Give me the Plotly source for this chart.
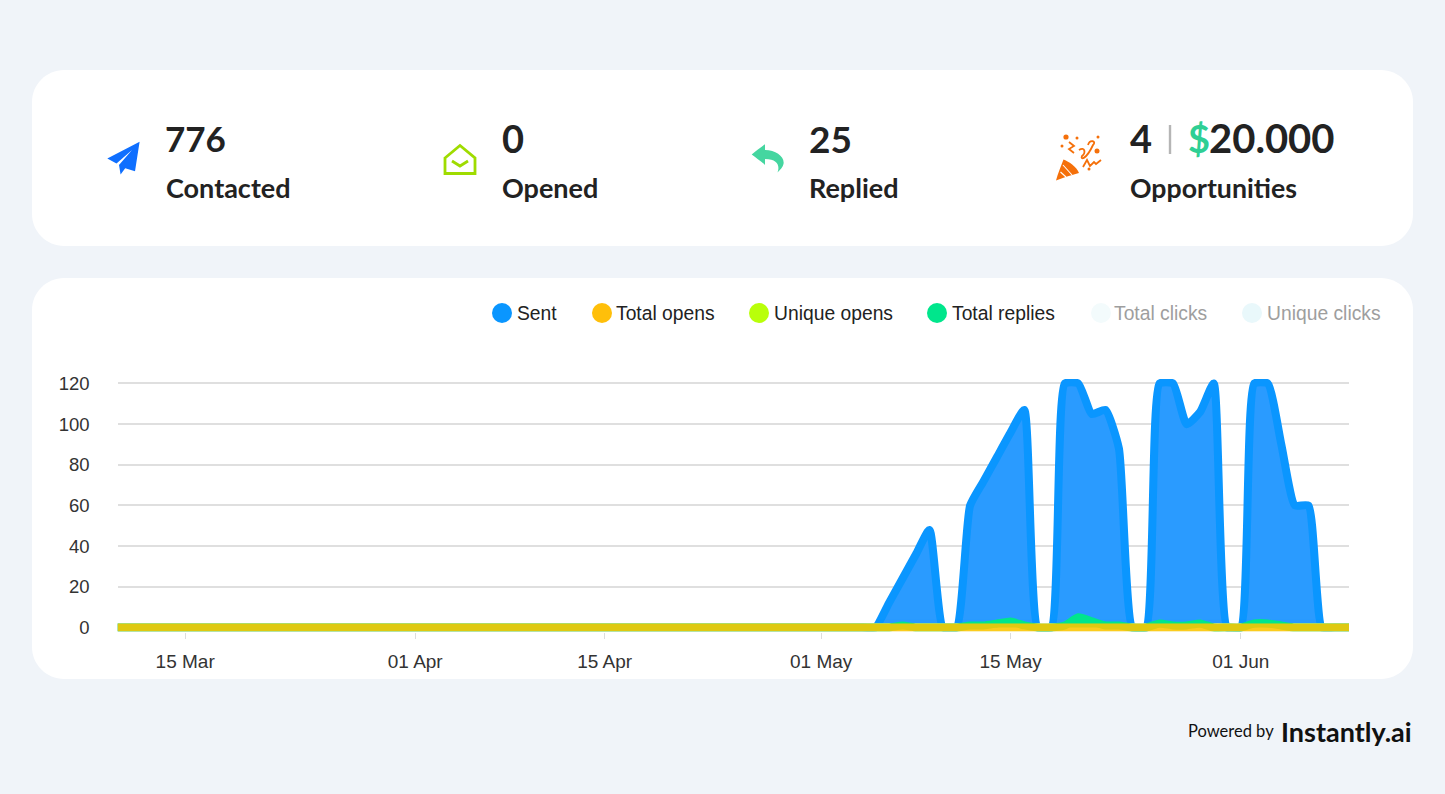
import plotly.graph_objects as go
import pandas as pd

W, H = 1445, 794

dates = [d.strftime("%Y-%m-%d") for d in pd.date_range("2024-03-10", "2024-06-09")]
leading_zeros = [0] * 56
sent_values = leading_zeros + [0, 12, 24, 36, 48, 0, 0, 60, 72, 84, 96, 107, 0, 0, 120, 120, 105, 107, 88, 0, 0,
                               120, 120, 100, 106, 120, 0, 0, 120, 120, 90, 60, 60, 0, 0, 0]
reply_values = leading_zeros + [0, 0, 1, 0, 0, 0, 0, 1, 1, 2, 3, 1, 0, 0, 1, 5, 3, 1, 1, 0, 0,
                                2, 1, 1, 2, 0, 0, 0, 2, 2, 1, 0, 0, 0, 0, 0]
zero_values = [0] * len(dates)

legend_names = ["Sent", "Total opens", "Unique opens", "Total replies", "Total clicks", "Unique clicks"]
legend_colors = ["#0a96ff", "#ffbf0a", "#b9ff0a", "#00e68c", "#f3fbfc", "#e9f8fb"]
legend_text_colors = ["#222222"] * 4 + ["#9e9e9e"] * 2
legend_dot_x = [502, 602, 759, 937, 1101, 1252]
legend_text_x = [517, 616, 774, 952, 1114, 1267]

y_ticks = [0, 20, 40, 60, 80, 100, 120]
x_tick_vals = ["2024-03-15", "2024-04-01", "2024-04-15", "2024-05-01", "2024-05-15", "2024-06-01"]
x_tick_text = ["15 Mar", "01 Apr", "15 Apr", "01 May", "15 May", "01 Jun"]

SANS = "Liberation Sans, Arial, sans-serif"
HEAD = "Lato, sans-serif"


def px(x):
    return x / W


def py(y):
    return 1 - y / H


def path(points, close=True):
    s = "M " + " L ".join(f"{px(a):.5f},{py(b):.5f}" for a, b in points)
    return s + (" Z" if close else "")


def curve(points):
    s = f"M {px(points[0][0]):.5f},{py(points[0][1]):.5f}"
    for i in range(1, len(points) - 2, 3):
        s += " C " + " ".join(f"{px(a):.5f},{py(b):.5f}" for a, b in points[i:i + 3])
    return s


def card(x0, y0, x1, y1, r):
    k = 0.45 * r
    s = f"M {px(x0 + r)},{py(y0)} L {px(x1 - r)},{py(y0)} "
    s += f"C {px(x1 - k)},{py(y0)} {px(x1)},{py(y0 + k)} {px(x1)},{py(y0 + r)} "
    s += f"L {px(x1)},{py(y1 - r)} C {px(x1)},{py(y1 - k)} {px(x1 - k)},{py(y1)} {px(x1 - r)},{py(y1)} "
    s += f"L {px(x0 + r)},{py(y1)} C {px(x0 + k)},{py(y1)} {px(x0)},{py(y1 - k)} {px(x0)},{py(y1 - r)} "
    s += f"L {px(x0)},{py(y0 + r)} C {px(x0)},{py(y0 + k)} {px(x0 + k)},{py(y0)} {px(x0 + r)},{py(y0)} Z"
    return dict(type="path", xref="paper", yref="paper", path=s, fillcolor="#ffffff",
                line_width=0, layer="below")


def fill_shape(s, color, layer="above"):
    return dict(type="path", xref="paper", yref="paper", path=s, fillcolor=color, line_width=0, layer=layer)


def stroke_shape(s, color, width):
    return dict(type="path", xref="paper", yref="paper", path=s, line=dict(color=color, width=width))


def circle(cx, cy, r, color):
    return dict(type="circle", xref="paper", yref="paper", x0=px(cx - r), x1=px(cx + r),
                y0=py(cy + r), y1=py(cy - r), fillcolor=color, line_width=0, layer="above")


def text(x, y, s, size, color="#222222", family=HEAD, bold=False, anchor="left"):
    return dict(xref="paper", yref="paper", x=px(x), y=py(y), text=f"<b>{s}</b>" if bold else s,
                showarrow=False, xanchor=anchor, yanchor="middle",
                font=dict(size=size, color=color, family=family), borderpad=0, borderwidth=0)


fig = go.Figure()


def line_trace(name, values, color, width, fill=None, opacity=1.0):
    fig.add_trace(go.Scatter(
        x=dates, y=values, name=name, mode="lines", showlegend=False, cliponaxis=False,
        line=dict(color=color, width=width, shape="spline", smoothing=0.5),
        fill="tozeroy" if fill else None, fillcolor=fill, opacity=opacity,
    ))


line_trace(legend_names[0], sent_values, legend_colors[0], 8, fill="rgba(42,155,255,1)")
line_trace(legend_names[5], zero_values, legend_colors[5], 8)
line_trace(legend_names[4], zero_values, legend_colors[4], 8)
line_trace(legend_names[3], reply_values, legend_colors[3], 8, fill=legend_colors[3])
line_trace(legend_names[2], zero_values, legend_colors[2], 8, opacity=0.15)
line_trace(legend_names[1], zero_values, "#ffc400", 8, opacity=0.86)

shapes = [card(32, 70, 1413, 246, 32), card(32, 278, 1413, 679, 32)]
annotations = []

# legend
for name, color, tcolor, dx, tx in zip(legend_names, legend_colors, legend_text_colors, legend_dot_x, legend_text_x):
    shapes.append(circle(dx, 313, 10, color))
    annotations.append(text(tx, 313, name, 19.3, tcolor, SANS))

# KPI icons
shapes.append(fill_shape(path([(139.6, 141.7), (107.3, 158.6), (116.5, 163.4), (132, 150), (119, 165),
                               (120.6, 174.6), (125.2, 168.3), (135, 171.3)]), "#0f6fff"))
shapes.append(stroke_shape(path([(445, 158), (460, 145.5), (475, 158), (475, 173.5), (445, 173.5)]), "#9fdc00", 2.8))
shapes.append(stroke_shape(path([(452, 161), (460, 166), (468, 161)], close=False), "#9fdc00", 2.8))
shapes.append(fill_shape(
    curve([(751.7, 154.5), (756, 151), (761, 147), (765, 144.2), (765, 146), (765, 148), (765, 150),
           (776, 150), (785, 157), (783.5, 164), (783, 167), (780, 170), (777.5, 172.5),
           (780, 166), (778, 159), (765, 159), (765, 161), (765, 163), (765, 165),
           (761, 161), (756, 158), (751.7, 154.5)]) + " Z", "#45d6a0"))

ORANGE = "#f5700a"
shapes.append(fill_shape(
    curve([(1056, 180.5), (1058, 173), (1061, 166), (1063.5, 159.5), (1068, 161), (1077, 167), (1079, 173),
           (1071, 175), (1063, 178), (1056, 180.5)]) + " Z", ORANGE))
for seg in [[(1060.5, 172), (1066, 177)], [(1063, 165), (1072, 175)]]:
    shapes.append(stroke_shape(path(seg, close=False), "#ffffff", 1.1))
shapes.append(stroke_shape(curve([(1079, 150), (1085, 146), (1086, 153), (1082, 156),
                                  (1080, 160), (1086, 160), (1093, 145),
                                  (1097, 141), (1090, 139), (1088, 145)]), ORANGE, 1.8))
shapes.append(stroke_shape(path([(1069, 142), (1074, 146), (1069, 149), (1074, 153)], close=False), ORANGE, 1.8))
shapes.append(stroke_shape(path([(1083, 167), (1087, 160), (1090, 166), (1094, 162), (1096, 164), (1101, 160)],
                                close=False), ORANGE, 1.8))
for cx, cy, r in [(1066, 137, 2.6), (1077, 138, 1.5), (1062, 146, 1.5), (1098, 137, 1.5),
                  (1097, 151, 2.5), (1089, 169, 1.5)]:
    shapes.append(circle(cx, cy, r, ORANGE))

# KPI text
kpis = [(165, "776", 35, 166, "Contacted"), (502, "0", 38, 502, "Opened"), (809, "25", 37, 809, "Replied")]
for nx, num, size, lx, label in kpis:
    annotations.append(text(nx, 138, num, size, bold=True))
    annotations.append(text(lx, 188, label, 27, bold=True))
annotations.append(text(1130, 138, "4", 38, bold=True))
shapes.append(stroke_shape(path([(1170, 125), (1170, 154)], close=False), "#b5b5b5", 2.4))
annotations.append(text(1188, 138, "$", 38, "#2fcf94", bold=True))
annotations.append(text(1209, 138, "20.000", 40, bold=True))
annotations.append(text(1130, 188, "Opportunities", 26.7, bold=True))

# footer
annotations.append(text(1188, 731, "Powered by", 16.5, "#111111"))
annotations.append(text(1281, 731, "Instantly.ai", 27, "#111111", bold=True))

# vertical plot window: value 0 sits at y=627.5 and 120 at y=383.5; the window leaves room for the thick strokes
Y_LOW, Y_HIGH = -2.0, 122.2
PX_PER_UNIT = (627.5 - 383.5) / 120
dom_bottom = (H - (627.5 - Y_LOW * PX_PER_UNIT)) / H
dom_top = (H - (627.5 - Y_HIGH * PX_PER_UNIT)) / H

fig.update_layout(
    width=W, height=H, autosize=False,
    margin=dict(l=0, r=0, t=0, b=0, pad=0),
    paper_bgcolor="#f0f4f9", plot_bgcolor="rgba(0,0,0,0)",
    shapes=shapes, annotations=annotations, showlegend=False,
    xaxis=dict(domain=[117.5 / W, 1349 / W], range=[dates[0], dates[-1]], type="date", automargin=False,
               tickmode="array", tickvals=x_tick_vals, ticktext=x_tick_text,
               showgrid=False, zeroline=False, showline=False, ticks="outside", ticklen=6.5,
               tickwidth=1, tickcolor="#dddddd", layer="below traces",
               tickfont=dict(size=19, color="#333333", family=SANS), ticklabelstandoff=6),
    yaxis=dict(domain=[dom_bottom, dom_top], range=[Y_LOW, Y_HIGH], automargin=False,
               tickmode="array", tickvals=y_ticks, ticktext=[str(v) for v in y_ticks],
               showgrid=True, gridcolor="#dfdfdf", gridwidth=1.5, zeroline=False, showline=False,
               ticks="", tickfont=dict(size=18.5, color="#333333", family=SANS), ticklabelstandoff=27),
)

fig.write_html("out.html", config=dict(displayModeBar=False),
               post_script="document.body.style.margin='0';document.body.style.overflow='hidden';document.body.style.background='#f0f4f9';")
